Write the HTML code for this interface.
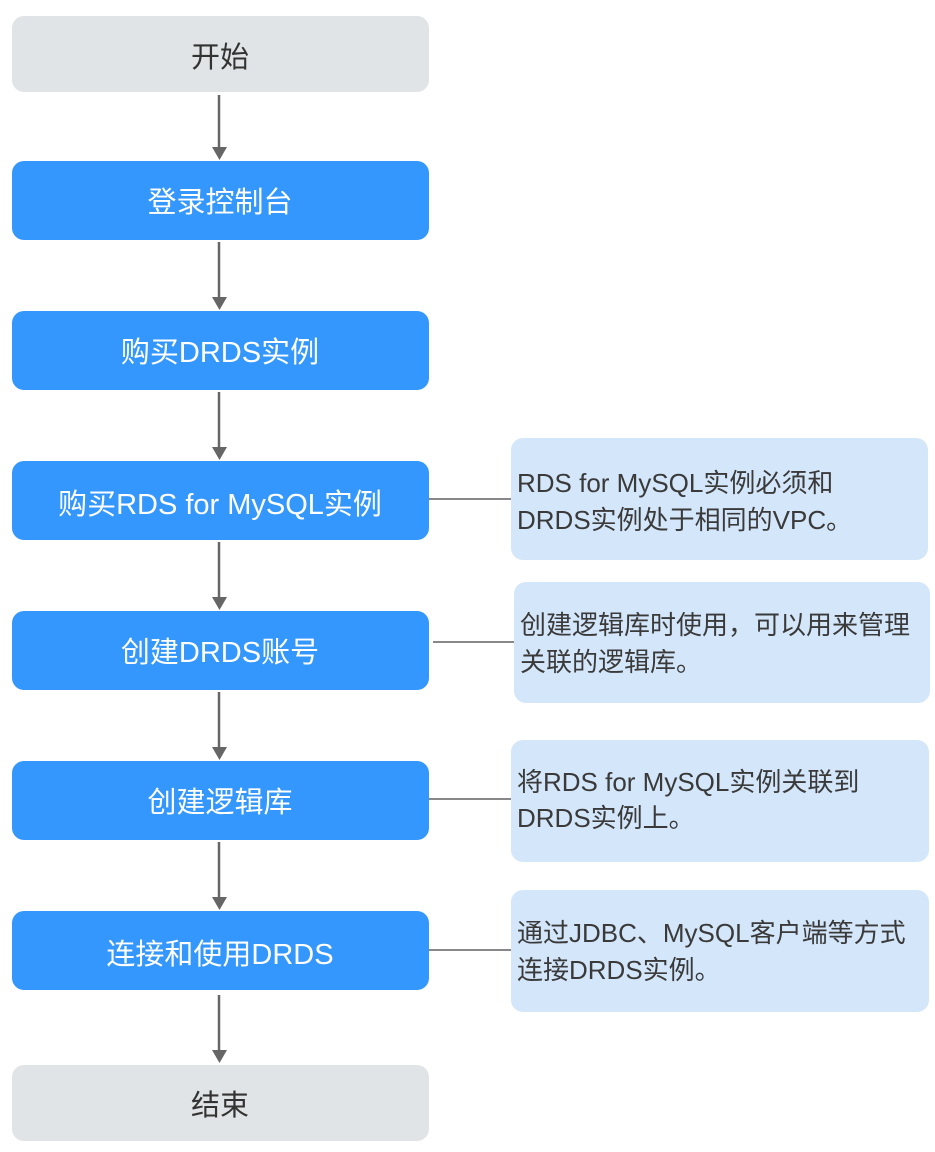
<!DOCTYPE html>
<html><head><meta charset="utf-8"><style>
html,body{margin:0;padding:0;background:#fff;}
svg{display:block;}
.b{fill:#fff;font-family:"Liberation Sans","Noto Sans CJK SC",sans-serif;font-size:29px;}
.g{fill:#333;font-family:"Liberation Sans","Noto Sans CJK SC",sans-serif;font-size:29px;}
.n{fill:#3a3a3a;font-family:"Liberation Sans","Noto Sans CJK SC",sans-serif;font-size:26px;}
</style></head><body>
<svg width="935" height="1152" viewBox="0 0 935 1152" xmlns="http://www.w3.org/2000/svg">
<!-- boxes -->
<rect x="12" y="16" width="417" height="76" rx="12" fill="#e1e4e6"/>
<rect x="12" y="161" width="417" height="79" rx="12" fill="#3497fd"/>
<rect x="12" y="311" width="417" height="79" rx="12" fill="#3497fd"/>
<rect x="12" y="461" width="417" height="79" rx="12" fill="#3497fd"/>
<rect x="12" y="611" width="417" height="79" rx="12" fill="#3497fd"/>
<rect x="12" y="761" width="417" height="79" rx="12" fill="#3497fd"/>
<rect x="12" y="911" width="417" height="79" rx="12" fill="#3497fd"/>
<rect x="12" y="1065" width="417" height="76" rx="12" fill="#e1e4e6"/>
<!-- notes -->
<rect x="511" y="438" width="417" height="122" rx="12" fill="#d4e6f9"/>
<rect x="514" y="582" width="416" height="121" rx="12" fill="#d4e6f9"/>
<rect x="511" y="740" width="418" height="122" rx="12" fill="#d4e6f9"/>
<rect x="511" y="890" width="418" height="122" rx="12" fill="#d4e6f9"/>
<!-- connectors -->
<g stroke="#888" stroke-width="2">
<line x1="429" y1="499" x2="511" y2="499"/>
<line x1="433" y1="642" x2="514" y2="642"/>
<line x1="429" y1="799" x2="511" y2="799"/>
<line x1="429" y1="950" x2="511" y2="950"/>
</g>
<!-- arrows -->
<g stroke="#666" stroke-width="2.5">
<line x1="219" y1="95" x2="219" y2="150"/>
<line x1="219" y1="242" x2="219" y2="300"/>
<line x1="219" y1="392" x2="219" y2="450"/>
<line x1="219" y1="542" x2="219" y2="600"/>
<line x1="219" y1="692" x2="219" y2="750"/>
<line x1="219" y1="842" x2="219" y2="900"/>
<line x1="219" y1="995" x2="219" y2="1054"/>
</g>
<g fill="#666">
<polygon points="212,147 227,147 219.5,160"/>
<polygon points="212,297 227,297 219.5,310"/>
<polygon points="212,447 227,447 219.5,460"/>
<polygon points="212,597 227,597 219.5,610"/>
<polygon points="212,747 227,747 219.5,760"/>
<polygon points="212,897 227,897 219.5,910"/>
<polygon points="212,1050 227,1050 219.5,1063"/>
</g>
<!-- box text -->
<text class="g" x="220" y="67" text-anchor="middle">开始</text>
<text class="b" x="220" y="212" text-anchor="middle">登录控制台</text>
<text class="b" x="220" y="362" text-anchor="middle">购买DRDS实例</text>
<text class="b" x="220" y="514" text-anchor="middle">购买RDS for MySQL实例</text>
<text class="b" x="220" y="662" text-anchor="middle">创建DRDS账号</text>
<text class="b" x="220" y="812" text-anchor="middle">创建逻辑库</text>
<text class="b" x="220" y="964" text-anchor="middle">连接和使用DRDS</text>
<text class="g" x="220" y="1115" text-anchor="middle">结束</text>
<!-- note text -->
<text class="n" x="517" y="492">RDS for MySQL实例必须和</text>
<text class="n" x="517" y="529">DRDS实例处于相同的VPC。</text>
<text class="n" x="520" y="634">创建逻辑库时使用，可以用来管理</text>
<text class="n" x="520" y="671">关联的逻辑库。</text>
<text class="n" x="517" y="791">将RDS for MySQL实例关联到</text>
<text class="n" x="517" y="827">DRDS实例上。</text>
<text class="n" x="517" y="942">通过JDBC、MySQL客户端等方式</text>
<text class="n" x="517" y="979">连接DRDS实例。</text>
</svg>
</body></html>
